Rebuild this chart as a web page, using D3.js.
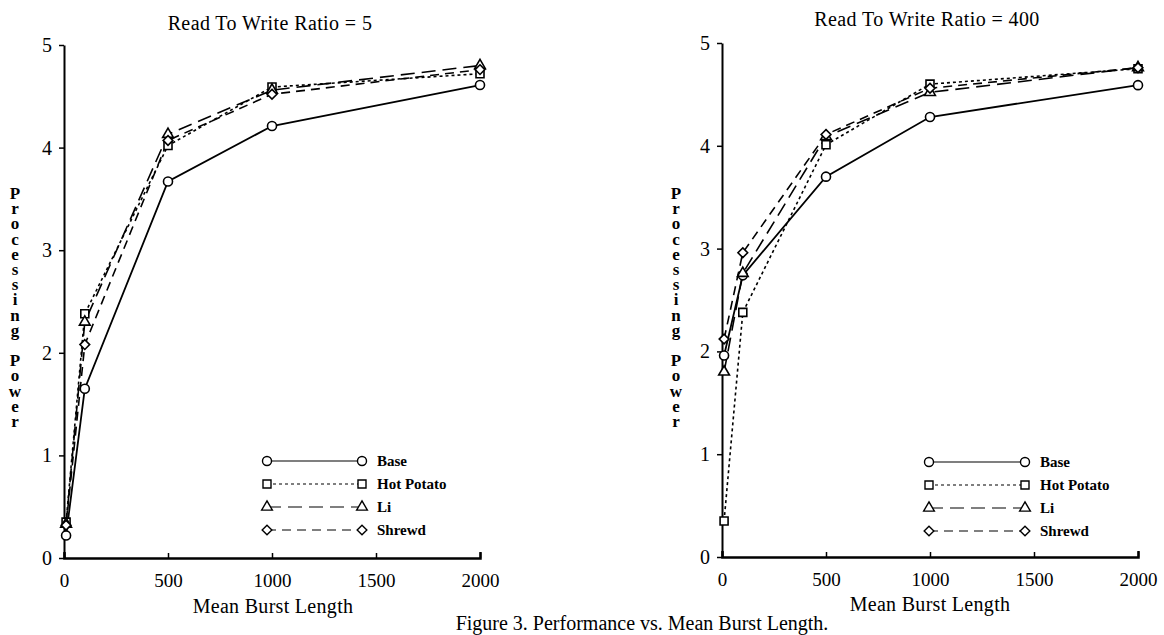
<!DOCTYPE html>
<html lang="en">
<head>
<meta charset="utf-8">
<script src="https://d3js.org/d3.v7.min.js"></script>
<style>
    body { margin: 0; background: #fff; }
    text { font-family: "Liberation Serif", "Times New Roman", serif; fill: #000; }
</style>
</head>
<body>
<script>

    // mean burst length used in the runs
    var burstLength = [10, 100, 500, 1000, 2000];
    var seriesNames = ["Base", "Hot Potato", "Li", "Shrewd"];

    // read to write ratio = 5
    var r5Base      = [0.22, 1.65, 3.67, 4.21, 4.61];
    var r5HotPotato = [0.35, 2.38, 4.02, 4.59, 4.72];
    var r5Li        = [0.33, 2.30, 4.13, 4.56, 4.80];
    var r5Shrewd    = [0.32, 2.08, 4.07, 4.52, 4.76];

    // read to write ratio = 400
    var r400Base      = [1.96, 2.74, 3.70, 4.28, 4.59];
    var r400HotPotato = [0.35, 2.38, 4.01, 4.60, 4.75];
    var r400Li        = [1.80, 2.76, 4.09, 4.52, 4.76];
    var r400Shrewd    = [2.12, 2.96, 4.11, 4.56, 4.76];

    var xTicks = [0, 500, 1000, 1500, 2000];
    var yTicks = [0, 1, 2, 3, 4, 5];

    var diamond = d3.symbolDiamond2 || d3.symbolDiamond;
    var dashes  = {"Base": null, "Hot Potato": "3,3", "Li": "14,7", "Shrewd": "9,6"};
    var symbols = {"Base": d3.symbolCircle, "Hot Potato": d3.symbolSquare,
                   "Li": d3.symbolTriangle, "Shrewd": diamond};
    var symSize = {"Base": 64, "Hot Potato": 64, "Li": 50, "Shrewd": 60};

    var svg = d3.select("body").append("svg")
            .attr("width", 1164)
            .attr("height", 635);

    var panels = [
        {title: "Read To Write Ratio = 5", values: [r5Base, r5HotPotato, r5Li, r5Shrewd],
         x0: 64, x1: 480, y0: 558, y1: 45, titleX: 270, titleY: 30,
         labelX: 273, labelY: 613, yLabelX: 15,
         legX1: 267, legX2: 362, legY: [461, 484, 507, 530]},
        {title: "Read To Write Ratio = 400", values: [r400Base, r400HotPotato, r400Li, r400Shrewd],
         x0: 722, x1: 1138, y0: 557, y1: 43, titleX: 927, titleY: 26,
         labelX: 930, labelY: 611, yLabelX: 676,
         legX1: 929, legX2: 1025, legY: [462, 485, 508, 531]}
    ];

    panels.forEach(drawPanel);

    // caption
    svg.append("text")
            .attr("x", 642)
            .attr("y", 630)
            .attr("text-anchor", "middle")
            .style("font-size", "20px")
            .text("Figure 3.  Performance vs. Mean Burst Length.");

    function drawPanel(p){
        var g = svg.append("g");

        var x = d3.scaleLinear().domain([0, 2000]).range([p.x0, p.x1]);
        var y = d3.scaleLinear().domain([0, 5]).range([p.y0, p.y1]);

        /*
        axes
         */
        var yAxis = g.append("g")
                .attr("transform", "translate(" + p.x0 + ",0)")
                .call(d3.axisLeft(y).tickValues(yTicks).tickFormat(d3.format("d"))
                        .tickSizeInner(5).tickSizeOuter(0).tickPadding(7));
        yAxis.select(".domain").attr("stroke-width", 2);
        yAxis.selectAll(".tick line").attr("stroke-width", 1.5);
        yAxis.selectAll("text").style("font-size", "20px").style("font-family", "Liberation Serif");

        var xAxis = g.append("g")
                .attr("transform", "translate(0," + p.y0 + ")")
                .call(d3.axisBottom(x).tickValues(xTicks).tickFormat(d3.format("d"))
                        .tickSizeInner(-5).tickSizeOuter(-6).tickPadding(16));
        xAxis.select(".domain").attr("stroke-width", 2.5);
        xAxis.selectAll(".tick line").attr("stroke-width", 1.5);
        xAxis.selectAll("text").style("font-size", "19px").style("font-family", "Liberation Serif");

        /*
        titles
         */
        g.append("text")
                .attr("x", p.titleX)
                .attr("y", p.titleY)
                .attr("text-anchor", "middle")
                .style("font-size", "20px")
                .style("letter-spacing", "0.4px")
                .text(p.title);

        g.append("text")
                .attr("x", p.labelX)
                .attr("y", p.labelY)
                .attr("text-anchor", "middle")
                .style("font-size", "20px")
                .style("letter-spacing", "0.3px")
                .text("Mean Burst Length");

        // stacked upright letters
        g.append("text")
                .attr("x", p.yLabelX)
                .attr("y", 184)
                .style("writing-mode", "vertical-rl")
                .style("text-orientation", "upright")
                .style("font-size", "17px")
                .style("letter-spacing", "-3.8px")
                .style("font-weight", "bold")
                .text("Processing Power");

        /*
        lines
         */
        var line = d3.line()
                .x(function(d, i){ return x(burstLength[i]); })
                .y(function(d){ return y(d); });

        seriesNames.forEach(function(name, k){
            g.append("path")
                    .datum(p.values[k])
                    .attr("d", line)
                    .attr("fill", "none")
                    .attr("stroke", "#000")
                    .attr("stroke-width", name == "Base" ? 1.8 : 1.6)
                    .attr("stroke-dasharray", dashes[name]);
        });

        seriesNames.forEach(function(name, k){
            g.selectAll(".m" + k)
                    .data(p.values[k])
                    .enter()
                    .append("path")
                    .attr("class", "m" + k)
                    .attr("transform", function(d, i){
                        return "translate(" + x(burstLength[i]) + "," + y(d) + ")";
                    })
                    .attr("d", d3.symbol().type(symbols[name]).size(symSize[name]))
                    .attr("fill", "#fff")
                    .attr("stroke", "#000")
                    .attr("stroke-width", 1.6);
        });

        /*
        legend
         */
        seriesNames.forEach(function(name, k){
            var ly = p.legY[k];
            g.append("line")
                    .attr("x1", p.legX1).attr("x2", p.legX2)
                    .attr("y1", ly).attr("y2", ly)
                    .attr("stroke", "#000")
                    .attr("stroke-width", 1.2)
                    .attr("stroke-dasharray", dashes[name]);
            [p.legX1, p.legX2].forEach(function(lx){
                g.append("path")
                        .attr("transform", "translate(" + lx + "," + ly + ")")
                        .attr("d", d3.symbol().type(symbols[name]).size(symSize[name]))
                        .attr("fill", "#fff")
                        .attr("stroke", "#000")
                        .attr("stroke-width", 1.4);
            });
            g.append("text")
                    .attr("x", p.legX2 + 15)
                    .attr("y", ly)
                    .attr("dominant-baseline", "central")
                    .style("font-size", "15px")
                    .style("font-weight", "bold")
                    .text(name);
        });
    }

</script>
</body>
</html>
